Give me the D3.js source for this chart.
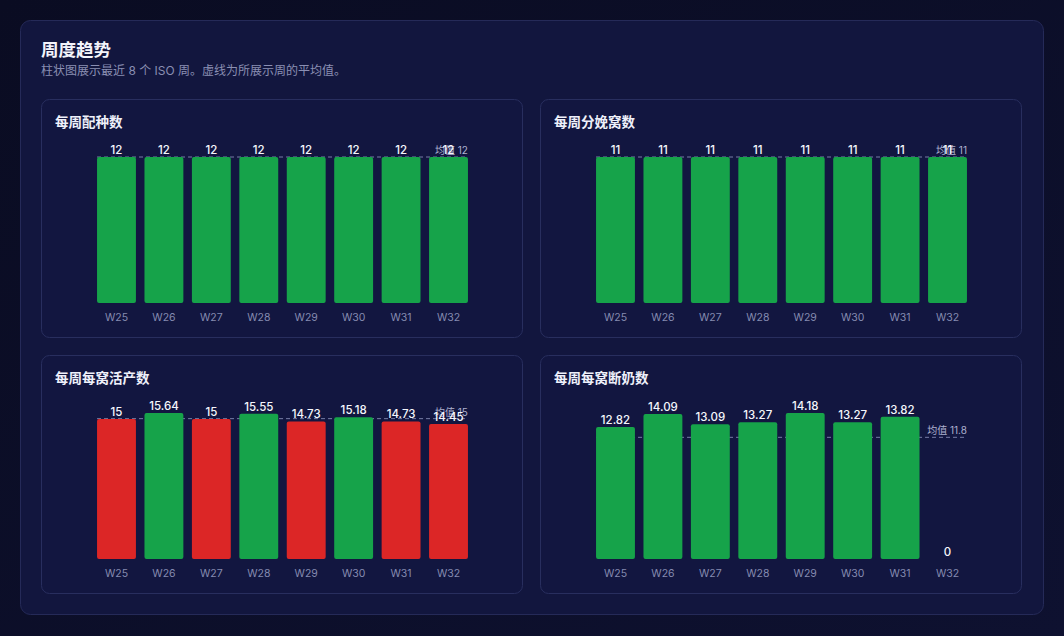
<!DOCTYPE html>
<html><head><meta charset="utf-8">
<script src="https://cdn.jsdelivr.net/npm/d3@7"></script>
<style>
html,body{margin:0;padding:0;background:#0b0d25;}
svg{display:block;}
text{font-family:Inter,"Noto Sans CJK SC","Noto Sans",sans-serif;}
</style></head>
<body>
<svg id="c" width="1064" height="636"></svg>
<script>
const weeks = ["W25","W26","W27","W28","W29","W30","W31","W32"];
const breedings = [12,12,12,12,12,12,12,12];
const farrowings = [11,11,11,11,11,11,11,11];
const liveBornPerLitter = [15,15.64,15,15.55,14.73,15.18,14.73,14.45];
const weanedPerLitter = [12.82,14.09,13.09,13.27,14.18,13.27,13.82,0];
const panelTitles = ["每周配种数","每周分娩窝数","每周每窝活产数","每周每窝断奶数"];
const mainTitle = "周度趋势";
const subTitle = "柱状图展示最近 8 个 ISO 周。虚线为所展示周的平均值。";
const avgPrefix = "均值 ";

const seriesList = [breedings, farrowings, liveBornPerLitter, weanedPerLitter];

const svg = d3.select("#c");
const defs = svg.append("defs");
const g = defs.append("linearGradient").attr("id","bg").attr("x1",0).attr("y1",0).attr("x2",1).attr("y2",1);
g.append("stop").attr("offset","0%").attr("stop-color","#0a0c22");
g.append("stop").attr("offset","100%").attr("stop-color","#0e1130");
svg.append("rect").attr("width",1064).attr("height",636).attr("fill","url(#bg)");

// outer card
svg.append("rect").attr("x",20.5).attr("y",20.5).attr("width",1023).attr("height",594)
  .attr("rx",10).attr("fill","#12163e").attr("stroke","#252a58");

svg.append("text").attr("x",41).attr("y",56).attr("fill","#f3f4fb")
  .attr("font-size",17.5).attr("font-weight",700).text(mainTitle);
svg.append("text").attr("x",41).attr("y",75).attr("fill","#8a8fb3")
  .attr("font-size",12).text(subTitle);

const panelW = 482, panelH = 239;
const positions = [[41,99],[540,99],[41,355],[540,355]];
const fmtVal = d3.format(".2~f");
const fmtAvg = d3.format(".1~f");

seriesList.forEach((vals, i) => {
  const [px, py] = positions[i];
  const p = svg.append("g").attr("transform",`translate(${px},${py})`);
  p.append("rect").attr("x",0.5).attr("y",0.5).attr("width",panelW-1).attr("height",panelH-1)
    .attr("rx",8).attr("fill","#121640").attr("stroke","#282e5e");
  p.append("text").attr("x",14).attr("y",28).attr("fill","#eef0fa")
    .attr("font-size",13.5).attr("font-weight",700).text(panelTitles[i]);

  const x = d3.scaleBand().domain(weeks).range([47.5, panelW-46.5]).padding(0.18);
  const y = d3.scaleLinear().domain([0, d3.max(vals)]).range([204, 58]);
  const avg = d3.mean(vals);
  const data = weeks.map((w,k)=>({w, v: vals[k]}));

  // average line (behind bars)
  const x0 = x(weeks[0]), x1 = x(weeks[weeks.length-1]) + x.bandwidth();
  p.append("line").attr("x1",x0).attr("x2",x1).attr("y1",y(avg)).attr("y2",y(avg))
    .attr("stroke","#8a8fb8").attr("stroke-opacity",0.85).attr("stroke-width",1)
    .attr("stroke-dasharray","4,3");

  p.selectAll("rect.bar").data(data).join("rect").attr("class","bar")
    .attr("x", d=>x(d.w)).attr("width", x.bandwidth())
    .attr("y", d=>y(d.v)).attr("height", d=>y(0)-y(d.v))
    .attr("rx",2)
    .attr("fill", d => d.v < avg - 1e-9 ? "#dc2626" : "#16a34a");

  p.append("text").attr("x",x1).attr("y",y(avg)-3).attr("text-anchor","end")
    .attr("fill","#aeb2d0").attr("font-size",10).text(avgPrefix + fmtAvg(avg));

  p.selectAll("text.val").data(data).join("text").attr("class","val")
    .attr("x", d=>x(d.w)+x.bandwidth()/2).attr("y", d=>y(d.v)-3)
    .attr("text-anchor","middle").attr("fill","#f5f6fc")
    .attr("font-size",11.5).attr("font-weight",500).text(d=>fmtVal(d.v));

  p.selectAll("text.xl").data(data).join("text").attr("class","xl")
    .attr("x", d=>x(d.w)+x.bandwidth()/2).attr("y",222)
    .attr("text-anchor","middle").attr("fill","#858bb0")
    .attr("font-size",10.5).text(d=>d.w);
});
</script>
</body></html>
